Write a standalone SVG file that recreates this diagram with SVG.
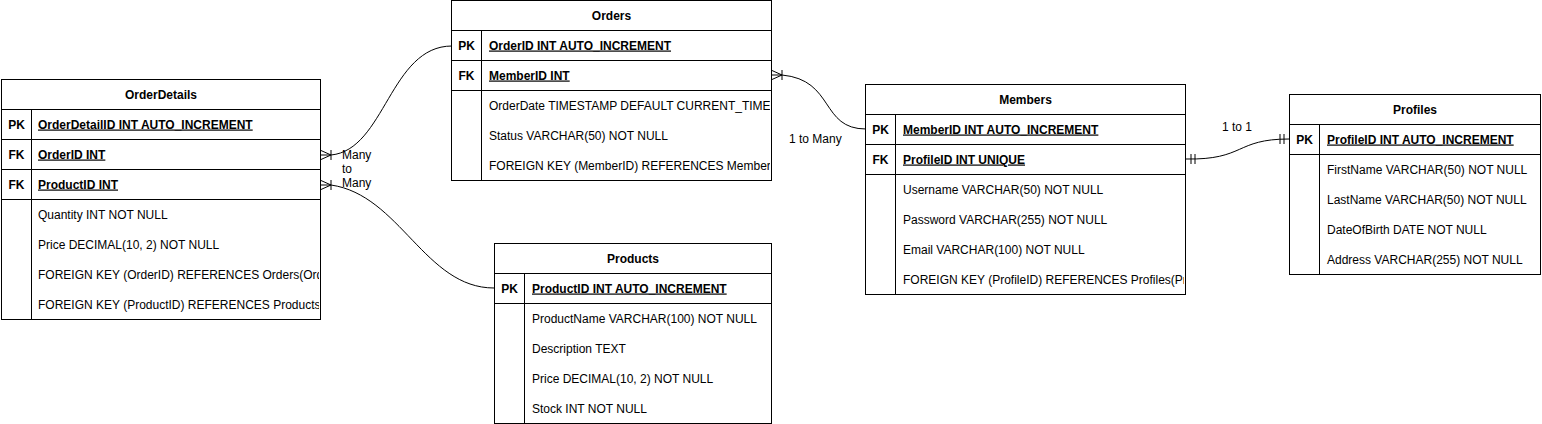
<svg xmlns="http://www.w3.org/2000/svg" width="1542" height="424" viewBox="0 0 1542 424">
<style>
.box{fill:#fff;stroke:#000;stroke-width:1}
.ln{stroke:#000;stroke-width:1;fill:none}
text{font-family:"Liberation Sans",Arial,Helvetica,sans-serif;font-size:12px;fill:#000}
.t{font-weight:bold;text-anchor:middle}
.k{font-weight:bold;text-anchor:middle}
.kf{font-weight:bold;text-decoration:underline}
.lab{font-size:12px}
</style>
<defs>
<clipPath id="cOD"><rect x="1" y="79" width="318" height="241"/></clipPath>
<clipPath id="cO"><rect x="452" y="0" width="318" height="181"/></clipPath>
<clipPath id="cM"><rect x="866" y="84" width="318" height="211"/></clipPath>
<clipPath id="cPf"><rect x="1290" y="94" width="250" height="181"/></clipPath>
<clipPath id="cPr"><rect x="495" y="243" width="275" height="181"/></clipPath>
</defs>

<g id="connectors">
  <!-- OrderDetails.OrderID -> Orders.OrderID -->
  <path class="ln" d="M321,155 L331,155 C385,150 390,46 452,46"/>
  <path class="ln" d="M321,150.5 L331,155 L321,159.5 M331,150 L331,160"/>
  <!-- OrderDetails.ProductID -> Products.ProductID -->
  <path class="ln" d="M321,185 L331,185 C400,195 425,288 494,288"/>
  <path class="ln" d="M321,180.5 L331,185 L321,189.5 M331,180 L331,190"/>
  <!-- Orders.MemberID -> Members.MemberID -->
  <path class="ln" d="M772,75 L782,75 C835,80 820,129 866,129"/>
  <path class="ln" d="M772,70.5 L782,75 L772,79.5 M782,70 L782,80"/>
  <!-- Members.ProfileID -> Profiles.ProfileID -->
  <path class="ln" d="M1186,159 C1245,160 1235,139 1289,139"/>
  <path class="ln" d="M1191,154 L1191,164 M1195,154 L1195,164 M1280,134 L1280,144 M1284,134 L1284,144"/>
  <text class="lab" x="342" y="159">Many</text>
  <text class="lab" x="342" y="173">to</text>
  <text class="lab" x="342" y="187">Many</text>
  <text class="lab" x="789" y="143">1 to Many</text>
  <text class="lab" x="1222" y="131">1 to 1</text>
</g>

<g id="OrderDetails">
  <rect class="box" x="1.5" y="79.5" width="319" height="240"/>
  <path class="ln" d="M1.5,109.5H320.5M1.5,139.5H320.5M1.5,169.5H320.5M1.5,199.5H320.5M31.5,109.5V319.5"/>
  <text class="t" x="161" y="98.5">OrderDetails</text>
  <text class="k" x="16.5" y="128.5">PK</text>
  <text class="k" x="16.5" y="158.5">FK</text>
  <text class="k" x="16.5" y="188.5">FK</text>
  <g clip-path="url(#cOD)">
    <text class="kf" x="38" y="128.5">OrderDetailID INT AUTO_INCREMENT</text>
    <text class="kf" x="38" y="158.5">OrderID INT</text>
    <text class="kf" x="38" y="188.5">ProductID INT</text>
    <text x="38" y="218.5">Quantity INT NOT NULL</text>
    <text x="38" y="248.5">Price DECIMAL(10, 2) NOT NULL</text>
    <text x="38" y="278.5">FOREIGN KEY (OrderID) REFERENCES Orders(OrderID)</text>
    <text x="38" y="308.5">FOREIGN KEY (ProductID) REFERENCES Products(ProductID)</text>
  </g>
</g>

<g id="Orders">
  <rect class="box" x="451.5" y="0.5" width="320" height="180"/>
  <path class="ln" d="M451.5,30.5H771.5M451.5,60.5H771.5M451.5,90.5H771.5M481.5,30.5V180.5"/>
  <text class="t" x="611.5" y="19.5">Orders</text>
  <text class="k" x="466.5" y="49.5">PK</text>
  <text class="k" x="466.5" y="79.5">FK</text>
  <g clip-path="url(#cO)">
    <text class="kf" x="489" y="49.5">OrderID INT AUTO_INCREMENT</text>
    <text class="kf" x="489" y="79.5">MemberID INT</text>
    <text x="489" y="109.5">OrderDate TIMESTAMP DEFAULT CURRENT_TIMESTAMP</text>
    <text x="489" y="139.5">Status VARCHAR(50) NOT NULL</text>
    <text x="489" y="169.5">FOREIGN KEY (MemberID) REFERENCES Members(MemberID)</text>
  </g>
</g>

<g id="Products">
  <rect class="box" x="494.5" y="243.5" width="277" height="180"/>
  <path class="ln" d="M494.5,273.5H771.5M494.5,303.5H771.5M524.5,273.5V423.5"/>
  <text class="t" x="633" y="262.5">Products</text>
  <text class="k" x="509.5" y="292.5">PK</text>
  <g clip-path="url(#cPr)">
    <text class="kf" x="532" y="292.5">ProductID INT AUTO_INCREMENT</text>
    <text x="532" y="322.5">ProductName VARCHAR(100) NOT NULL</text>
    <text x="532" y="352.5">Description TEXT</text>
    <text x="532" y="382.5">Price DECIMAL(10, 2) NOT NULL</text>
    <text x="532" y="412.5">Stock INT NOT NULL</text>
  </g>
</g>

<g id="Members">
  <rect class="box" x="865.5" y="84.5" width="320" height="210"/>
  <path class="ln" d="M865.5,114.5H1185.5M865.5,144.5H1185.5M865.5,174.5H1185.5M895.5,114.5V294.5"/>
  <text class="t" x="1025.5" y="103.5">Members</text>
  <text class="k" x="880.5" y="133.5">PK</text>
  <text class="k" x="880.5" y="163.5">FK</text>
  <g clip-path="url(#cM)">
    <text class="kf" x="903" y="133.5">MemberID INT AUTO_INCREMENT</text>
    <text class="kf" x="903" y="163.5">ProfileID INT UNIQUE</text>
    <text x="903" y="193.5">Username VARCHAR(50) NOT NULL</text>
    <text x="903" y="223.5">Password VARCHAR(255) NOT NULL</text>
    <text x="903" y="253.5">Email VARCHAR(100) NOT NULL</text>
    <text x="903" y="283.5">FOREIGN KEY (ProfileID) REFERENCES Profiles(ProfileID)</text>
  </g>
</g>

<g id="Profiles">
  <rect class="box" x="1289.5" y="94.5" width="251" height="180"/>
  <path class="ln" d="M1289.5,124.5H1540.5M1289.5,154.5H1540.5M1319.5,124.5V274.5"/>
  <text class="t" x="1415" y="113.5">Profiles</text>
  <text class="k" x="1304.5" y="143.5">PK</text>
  <g clip-path="url(#cPf)">
    <text class="kf" x="1327" y="143.5">ProfileID INT AUTO_INCREMENT</text>
    <text x="1327" y="173.5">FirstName VARCHAR(50) NOT NULL</text>
    <text x="1327" y="203.5">LastName VARCHAR(50) NOT NULL</text>
    <text x="1327" y="233.5">DateOfBirth DATE NOT NULL</text>
    <text x="1327" y="263.5">Address VARCHAR(255) NOT NULL</text>
  </g>
</g>
</svg>
